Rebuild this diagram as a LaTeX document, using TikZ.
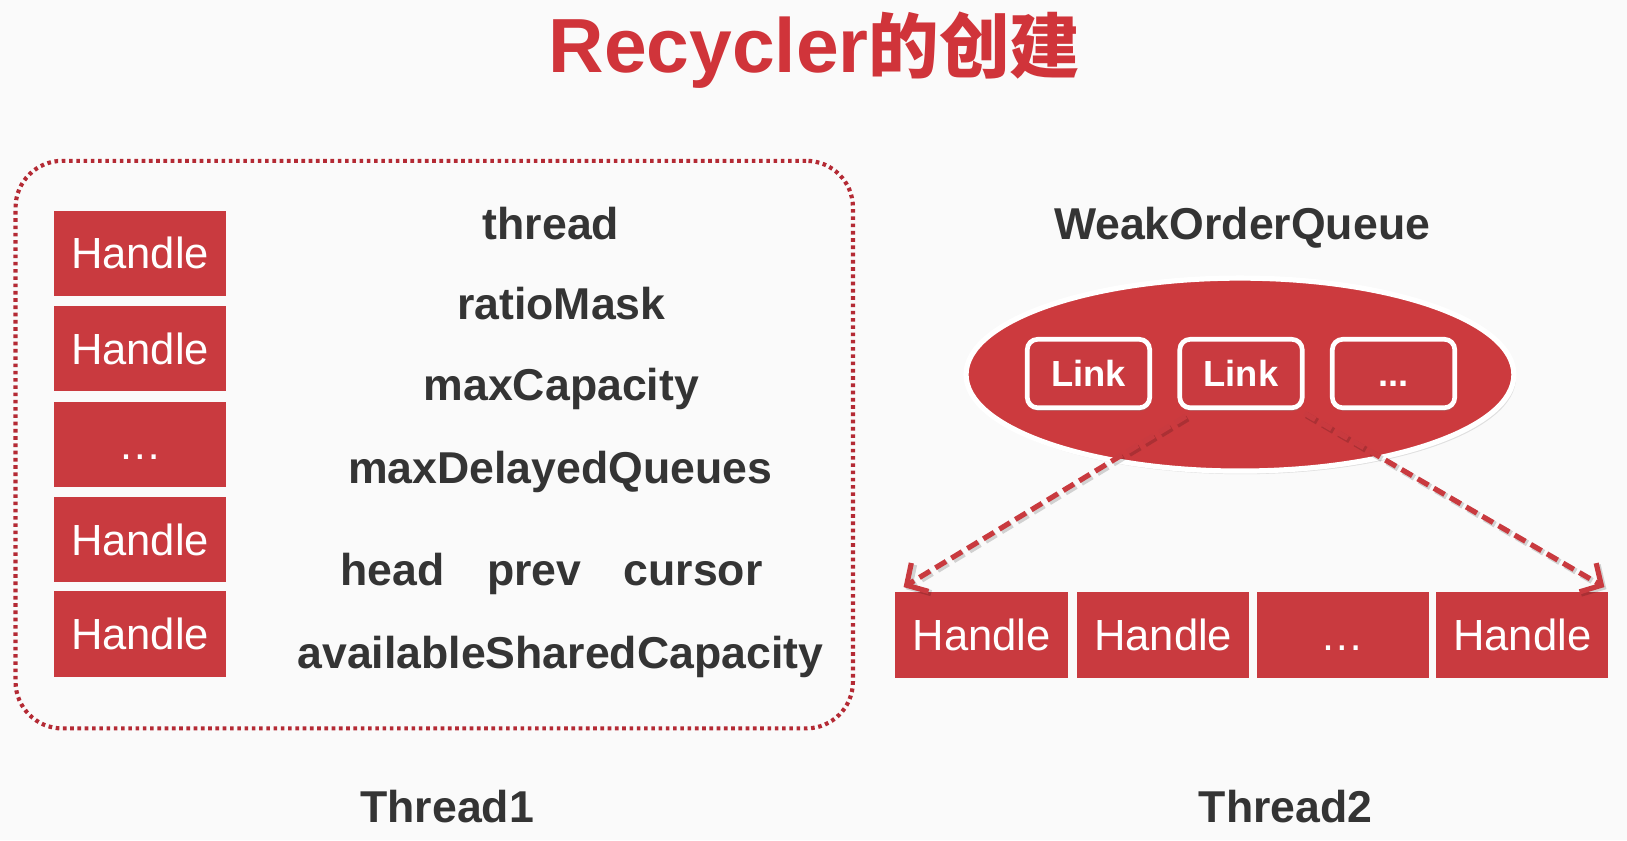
\documentclass[tikz,border=0pt]{standalone}
\usepackage{fontspec}
\setmainfont{Liberation Sans}
\newfontfamily\cjkfont{Noto Sans CJK SC}
\usetikzlibrary{shadows,arrows.meta,shapes.geometric}
\definecolor{hred}{RGB}{201,58,63}
\definecolor{ered}{RGB}{204,58,62}
\definecolor{fred}{RGB}{180,42,52}
\definecolor{tred}{RGB}{208,52,58}
\definecolor{tgray}{RGB}{52,52,52}
\definecolor{bgc}{RGB}{250,250,250}
\begin{document}
\begin{tikzpicture}[x=1pt,y=-1pt,
  handlebox/.style={fill=hred, text=white, minimum width=166pt, minimum height=82pt, inner sep=0pt, font=\fontsize{42}{42}\selectfont},
  field/.style={text=tgray, font=\bfseries\fontsize{43}{43}\selectfont, anchor=base, inner sep=0pt},
  linkbox/.style={fill=hred, draw=white, line width=4.5pt, rounded corners=10pt, minimum width=118pt, minimum height=66pt, inner sep=0pt, text=white, font=\bfseries\fontsize{35}{35}\selectfont, drop shadow={opacity=0.35, shadow xshift=1pt, shadow yshift=-3pt}},
  framebox/.style={draw=fred, line width=4pt, dash pattern=on 3.5pt off 3.5pt, rounded corners=45pt, inner sep=0pt},
  linkarrow/.style={draw=hred, line width=5pt, dash pattern=on 12pt off 6pt, -{Straight Barb[length=15pt,width=32pt,line width=5pt]}},
  arrowshadow/.style={draw=black, opacity=0.16, line width=6pt, dash pattern=on 12pt off 6pt, -{Straight Barb[length=15pt,width=32pt,line width=6pt]}}]
\fill[bgc] (0,0) rectangle (1568,810);
\useasboundingbox (0,0) rectangle (1568,810);

% title
\node[anchor=base, inner sep=0pt, text=tred] (title) at (785,70)
  {\bfseries\fontsize{74}{74}\selectfont Recycler{\cjkfont\bfseries\fontsize{68}{68}\selectfont 的创建}};

% Thread1 frame
\node[framebox, minimum width=807pt, minimum height=547pt] (frame1) at (418.5,428.5) {};

\node[handlebox] (h1) at (135,244) {Handle};
\node[handlebox] (h2) at (135,336) {Handle};
\node[handlebox] (h3) at (135,428) {\vphantom{Handle}\dots};
\node[handlebox] (h4) at (135,520) {Handle};
\node[handlebox] (h5) at (135,611) {Handle};

\node[field] (fthread) at (531,231) {thread};
\node[field] (fratio) at (541,308) {ratioMask};
\node[field] (fmaxcap) at (541,386) {maxCapacity};
\node[field] (fmaxdq) at (540,466) {maxDelayedQueues};
\node[field] (fhead) at (378,564) {head};
\node[field] (fprev) at (515,564) {prev};
\node[field] (fcursor) at (668,564) {cursor};
\node[field] (favail) at (540,644) {availableSharedCapacity};

\node[field] (thread1) at (431,793) {Thread1};

% Thread2
\node[field] (woqlabel) at (1197,231) {WeakOrderQueue};
\node[ellipse, fill=ered, draw=white, line width=5pt, minimum width=528pt, minimum height=186pt,
  drop shadow={opacity=0.22, shadow xshift=2pt, shadow yshift=-3pt}] (woq) at (1195,361) {};

\node[linkbox] (link1) at (1049,360) {Link};
\node[linkbox] (link2) at (1196,360) {Link};
\node[linkbox] (link3) at (1343,360) {\vphantom{Link}...};

\node[handlebox] (b1) at (946,612) {Handle};
\node[handlebox] (b2) at (1121,612) {Handle};
\node[handlebox] (b3) at (1294,612) {\vphantom{Handle}\dots};
\node[handlebox] (b4) at (1467,612) {Handle};

\draw[arrowshadow, transform canvas={xshift=2pt,yshift=-2pt}] ([xshift=8pt,yshift=-6pt]link2.south west) -- ([xshift=8pt,yshift=5pt]b1.north west);
\draw[arrowshadow, transform canvas={xshift=2pt,yshift=-2pt}] ([xshift=0pt,yshift=-3pt]link2.south east) -- ([xshift=-4pt,yshift=5pt]b4.north east);
\draw[linkarrow] ([xshift=8pt,yshift=-6pt]link2.south west) -- ([xshift=8pt,yshift=5pt]b1.north west);
\draw[linkarrow] ([xshift=0pt,yshift=-3pt]link2.south east) -- ([xshift=-4pt,yshift=5pt]b4.north east);

\node[field] (thread2) at (1239,793) {Thread2};
\end{tikzpicture}
\end{document}
